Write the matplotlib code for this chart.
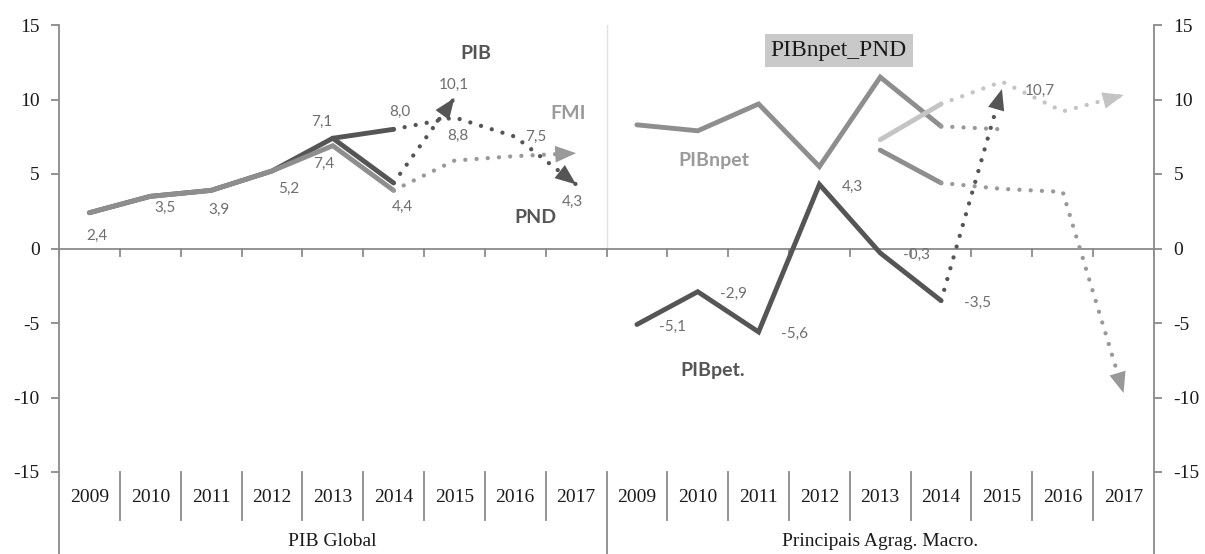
import matplotlib
matplotlib.use("Agg")
import matplotlib.pyplot as plt

# ---------------- data ----------------
years = ["2009", "2010", "2011", "2012", "2013", "2014", "2015", "2016", "2017"]
groups = ["PIB Global", "Principais Agrag. Macro."]

# Left panel (PIB Global)
pib_real = [2.4, 3.5, 3.9, 5.2, 7.4, 8.0]      # 2009-2014
pib_proj = [8.0, 8.8, 7.5, 4.3]                # 2014-2017
pnd_real = [7.4, 4.4]                          # 2013-2014
pnd_proj = [4.4, 10.1]                         # 2014-2015
fmi_real = [2.4, 3.5, 3.9, 5.2, 6.9, 3.9]      # 2009-2014
fmi_proj = [3.9, 5.9, 6.2, 6.4]                # 2014-2017

# Right panel (Principais Agrag. Macro.)
npet_real = [8.3, 7.9, 9.7, 5.5, 11.5, 8.2]    # 2009-2014
npet_proj = [8.2, 8.0]                         # 2014-2015
npetpnd_real = [7.3, 9.7]                      # 2013-2014
npetpnd_proj = [9.7, 11.2, 9.2, 10.3]          # 2014-2017
npetfmi_real = [6.6, 4.4]                      # 2013-2014
npetfmi_proj = [4.4, 4.0, 3.8, -9.7]           # 2014-2017
pet_real = [-5.1, -2.9, -5.6, 4.3, -0.3, -3.5] # 2009-2014
pet_proj = [-3.5, 10.7]                        # 2014-2015

yticks = [-15, -10, -5, 0, 5, 10, 15]

# ---------------- style ----------------
DARK = "#555555"
MID = "#8e8e8e"
DOT_MID = "#999999"
LIGHT = "#c4c4c4"
AXC = "#8a8a8a"
LBL = "#6e6e6e"
SANS = ["Lato", "DejaVu Sans"]
SERIF = ["Liberation Serif", "DejaVu Serif"]

W, H = 1205, 554
fig = plt.figure(figsize=(W / 100, H / 100), dpi=100)
x0p, x1p, ytop, ybot = 59, 1154, 25, 472
ax = fig.add_axes([x0p / W, (H - ybot) / H, (x1p - x0p) / W, (ybot - ytop) / H])
ax.set_xlim(0, 2 * len(years))
ax.set_ylim(-15, 15)
for s in ax.spines.values():
    s.set_visible(False)

ppu = (ybot - ytop) / 30.0  # pixels per y unit
def py2d(px_below):  # pixels below axes bottom -> data y
    return -15 - px_below / ppu

ybottom_fig = py2d(H - ybot)

# spines extended to bottom of the figure
for xv in (0, 2 * len(years)):
    ax.plot([xv, xv], [15, ybottom_fig], color=AXC, lw=1.3, clip_on=False, zorder=1)
# faint divider between panels
ax.plot([len(years), len(years)], [15, 0], color="#e2e2e2", lw=1.0, zorder=0)
ax.plot([len(years), len(years)], [-15, ybottom_fig], color=AXC, lw=1.3, clip_on=False)

# horizontal axis at zero with downward ticks
ax.axhline(0, color=AXC, lw=1.3, zorder=1)
for k in range(0, 2 * len(years) + 1):
    ax.plot([k, k], [0, -7 / ppu], color=AXC, lw=1.3, zorder=1)

# y ticks both sides
ax.set_yticks(yticks)
ax.set_yticklabels([str(v) for v in yticks])
ax.set_xticks([])
ax.tick_params(axis="y", which="both", left=True, right=True, labelleft=True,
               labelright=True, direction="out", length=6, width=1.3, color=AXC,
               labelsize=14, labelcolor="#1a1a1a")
ax.tick_params(axis="y", pad=8)
for lab in ax.get_yticklabels():
    lab.set_fontfamily(SERIF)

# category labels + separators
for g, gname in enumerate(groups):
    base = g * len(years)
    for i, yr in enumerate(years):
        ax.text(base + i + 0.5, py2d(25), yr, ha="center", va="center",
                fontsize=14, family=SERIF, color="#1a1a1a", clip_on=False)
        if i > 0:
            ax.plot([base + i, base + i], [-15, py2d(48)], color=AXC, lw=1.3,
                    clip_on=False)
    ax.text(base + len(years) / 2, py2d(69), gname, ha="center", va="center",
            fontsize=14, family=SERIF, color="#1a1a1a", clip_on=False)


def xs(start_idx, n):
    return [start_idx + i + 0.5 for i in range(n)]


def solid(start_idx, vals, color, z=3):
    ax.plot(xs(start_idx, len(vals)), vals, color=color, lw=3.5,
            solid_capstyle="round", solid_joinstyle="miter", zorder=z)


def dotted(start_idx, vals, color, arrow=True, z=4):
    x = xs(start_idx, len(vals))
    ax.plot(x, vals, color=color, lw=3.1, linestyle=(0, (0.01, 2.6)),
            dash_capstyle="round", zorder=z)
    if arrow:
        xa, ya = x[-2], vals[-2]
        xb, yb = x[-1], vals[-1]
        ax.annotate("", xy=(xb, yb),
                    xytext=(xb - (xb - xa) * 0.35, yb - (yb - ya) * 0.35),
                    arrowprops=dict(arrowstyle="-|>,head_length=1.5,head_width=0.6",
                                    color=color, lw=0, shrinkA=0, shrinkB=0),
                    zorder=z + 1)


# left panel
solid(0, pib_real, DARK, z=3)
solid(4, pnd_real, DARK, z=3)
solid(0, fmi_real, MID, z=3.5)
dotted(5, fmi_proj, DOT_MID, z=4)
dotted(5, pib_proj, DARK, z=4.5)
dotted(5, pnd_proj, DARK, z=4.5)

# right panel
R = len(years)
solid(R, npet_real, MID, z=3)
dotted(R + 5, npet_proj, DOT_MID, arrow=False, z=4)
solid(R + 4, npetfmi_real, MID, z=3)
dotted(R + 5, npetfmi_proj, DOT_MID, z=4)
solid(R + 4, npetpnd_real, LIGHT, z=3.2)
dotted(R + 5, npetpnd_proj, LIGHT, z=4)
solid(R, pet_real, DARK, z=3.4)
dotted(R + 5, pet_proj, DARK, z=4.6)


def fmt(v):
    return f"{v:.1f}".replace(".", ",")


def dlabel(xc, yv, text, dx_px, dy_px):
    ax.annotate(text, xy=(xc, yv), xytext=(dx_px * 0.72, dy_px * 0.72),
                textcoords="offset points", ha="center", va="center",
                fontsize=11, family=SANS, color=LBL, zorder=6)


# left data labels
lx = xs(0, 9)
dlabel(lx[0], pib_real[0], fmt(pib_real[0]), 8, -23)
dlabel(lx[1], pib_real[1], fmt(pib_real[1]), 15, -12)
dlabel(lx[2], pib_real[2], fmt(pib_real[2]), 8, -20)
dlabel(lx[3], pib_real[3], fmt(pib_real[3]), 17, -18)
dlabel(lx[4], pib_real[4], "7,1", -11, 16)
dlabel(lx[4], fmi_real[4], "7,4", -9, -18)
dlabel(lx[5], pib_real[5], fmt(pib_real[5]), 6, 17)
dlabel(lx[6], pnd_proj[1], fmt(pnd_proj[1]), -1, 13)
dlabel(lx[6], pib_proj[1], fmt(pib_proj[1]), 3, -19)
dlabel(lx[7], pib_proj[2], fmt(pib_proj[2]), 21, 0)
dlabel(lx[5], pnd_real[1], fmt(pnd_real[1]), 9, -24)
dlabel(lx[8], pib_proj[3], fmt(pib_proj[3]), -4, -17)

# right data labels
rx = xs(R, 9)
for i, v in enumerate(pet_real):
    dlabel(rx[i], v, fmt(v), 36 if i != 3 else 33, -2)
dlabel(rx[6], pet_proj[1], fmt(pet_proj[1]), 38, -2)

# series names
def name(xd, yd, text, color):
    ax.text(xd, yd, text, ha="center", va="center", fontsize=14,
            fontweight="bold", family=SANS, color=color, zorder=6)

name(6.856, 13.11, "PIB", "#555555")
name(8.368, 9.07, "FMI", "#9a9a9a")
name(7.826, 2.10, "PND", "#555555")
name(10.768, 5.92, "PIBnpet", "#9a9a9a")
name(10.739, -8.17, "PIBpet.", "#555555")

ax.text(12.82, 13.31, "PIBnpet_PND", ha="center", va="center", fontsize=17,
        family=SERIF, color="#1a1a1a", zorder=6,
        bbox=dict(boxstyle="square,pad=0.25", fc="#c9c9c9", ec="none"))

fig.savefig("out.png", dpi=100)
